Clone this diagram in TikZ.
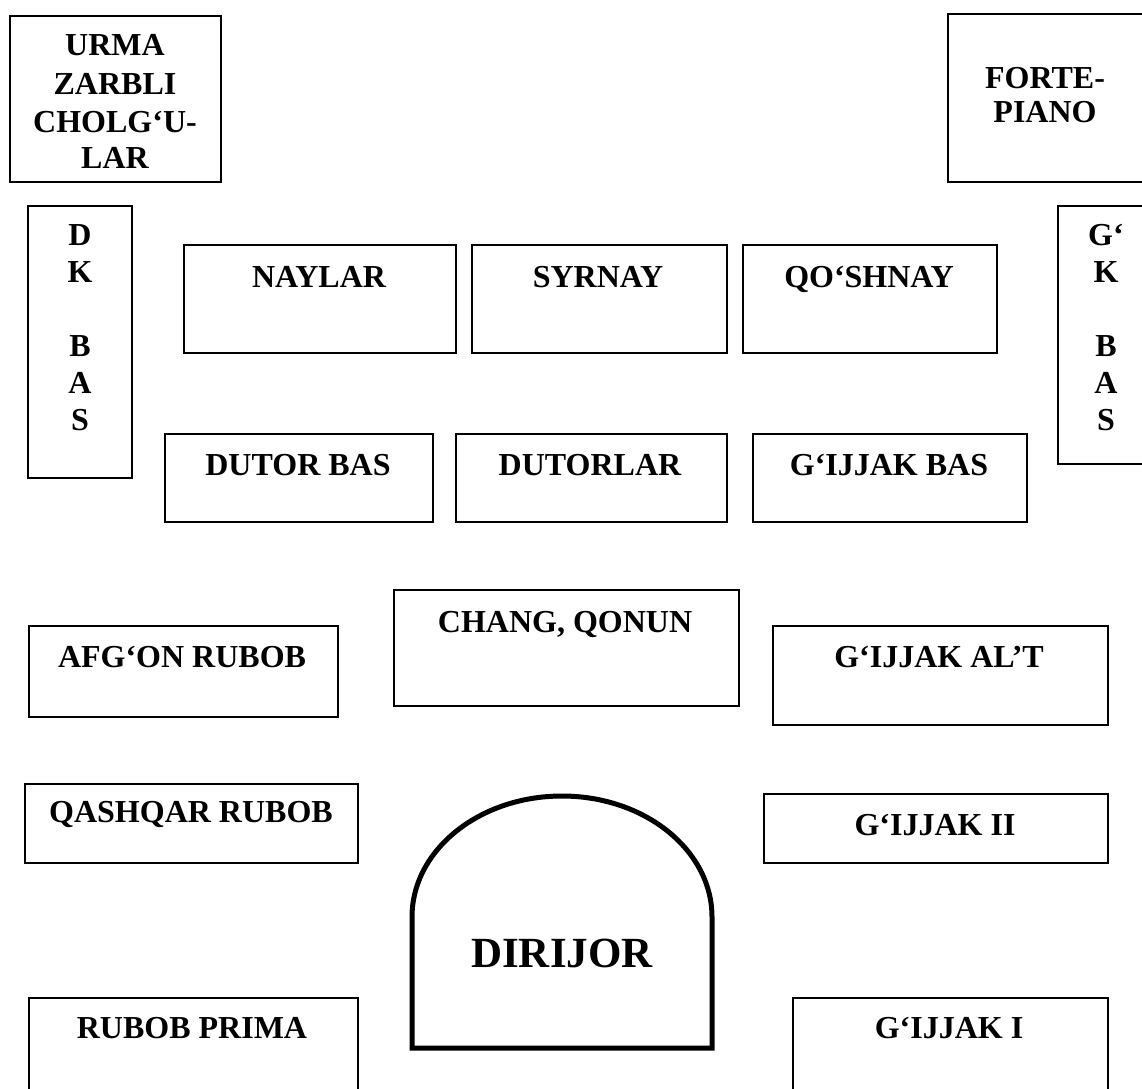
\documentclass[tikz,border=0pt]{standalone}
\usepackage{fontspec}
\setmainfont{Liberation Serif}
\begin{document}
\begin{tikzpicture}[x=1pt,y=-1pt,
  box/.style={draw=black, line width=1.5pt, rectangle, inner sep=0pt, anchor=north west},
  lbl/.style={font=\bfseries\fontsize{32}{37}\selectfont, inner sep=0pt, anchor=base},
  biglbl/.style={font=\bfseries\fontsize{43}{50}\selectfont, inner sep=0pt, anchor=base}]
\useasboundingbox (0,0) rectangle (1142,1088);
\clip (0,0) rectangle (1142,1088);
\fill[white] (0,0) rectangle (1142,1088);

% top corner boxes
\node[box, minimum width=211pt, minimum height=166pt] (urma) at (9,15) {};
\node[lbl] (urma1) at (115,55) {URMA};
\node[lbl] (urma2) at (115,94) {ZARBLI};
\node[lbl] (urma3) at (115,132) {CHOLG‘U-};
\node[lbl] (urma4) at (115,168) {LAR};

\node[box, minimum width=205pt, minimum height=168pt] (forte) at (947,13) {};
\node[lbl] (forte1) at (1045,88) {FORTE-};
\node[lbl] (forte2) at (1045,122) {PIANO};

% vertical side boxes
\node[box, minimum width=104pt, minimum height=272pt] (dk) at (27,205) {};
\node[lbl] (dk1) at (80,245) {D};
\node[lbl] (dk2) at (80,282) {K};
\node[lbl] (dk3) at (80,356) {B};
\node[lbl] (dk4) at (80,393) {A};
\node[lbl] (dk5) at (80,430) {S};

\node[box, minimum width=105pt, minimum height=258pt] (gk) at (1057,205) {};
\node[lbl] (gk1) at (1106,245) {G‘};
\node[lbl] (gk2) at (1106,282) {K};
\node[lbl] (gk3) at (1106,356) {B};
\node[lbl] (gk4) at (1106,393) {A};
\node[lbl] (gk5) at (1106,430) {S};

% wind row
\node[box, minimum width=272pt, minimum height=108pt] (naylar) at (183,244) {};
\node[lbl] (naylart) at (319,287) {NAYLAR};
\node[box, minimum width=255pt, minimum height=108pt] (syrnay) at (471,244) {};
\node[lbl] (syrnayt) at (598,287) {SYRNAY};
\node[box, minimum width=254pt, minimum height=108pt] (qoshnay) at (742,244) {};
\node[lbl] (qoshnayt) at (869,287) {QO‘SHNAY};

% bass row
\node[box, minimum width=268pt, minimum height=88pt] (dutorbas) at (164,433) {};
\node[lbl] (dutorbast) at (298,475) {DUTOR BAS};
\node[box, minimum width=271pt, minimum height=88pt] (dutorlar) at (455,433) {};
\node[lbl] (dutorlart) at (590,475) {DUTORLAR};
\node[box, minimum width=274pt, minimum height=88pt] (gijjakbas) at (752,433) {};
\node[lbl] (gijjakbast) at (889,475) {G‘IJJAK BAS};

% middle
\node[box, minimum width=345pt, minimum height=116pt] (chang) at (393,589) {};
\node[lbl] (changt) at (565,632) {CHANG, QONUN};
\node[box, minimum width=309pt, minimum height=91pt] (afgon) at (28,625) {};
\node[lbl] (afgont) at (182,667) {AFG‘ON RUBOB};
\node[box, minimum width=335pt, minimum height=99pt] (alt) at (772,625) {};
\node[lbl] (altt) at (939,667) {G‘IJJAK AL’T};

\node[box, minimum width=333pt, minimum height=79pt] (qashqar) at (24,783) {};
\node[lbl] (qashqart) at (191,822) {QASHQAR RUBOB};
\node[box, minimum width=344pt, minimum height=69pt] (gijjak2) at (763,793) {};
\node[lbl] (gijjak2t) at (935,835) {G‘IJJAK II};

% bottom
\node[box, minimum width=329pt, minimum height=120pt] (prima) at (28,997) {};
\node[lbl] (primat) at (192,1038) {RUBOB PRIMA};
\node[box, minimum width=315pt, minimum height=120pt] (gijjak1) at (792,997) {};
\node[lbl] (gijjak1t) at (949,1038) {G‘IJJAK I};

% conductor
\draw[line width=5pt] (412,1048) -- (412,917)
  arc[start angle=180, end angle=0, x radius=150pt, y radius=121pt]
  -- (712,1048) -- cycle;
\node[biglbl] (dirijor) at (562,967) {DIRIJOR};
\end{tikzpicture}
\end{document}
